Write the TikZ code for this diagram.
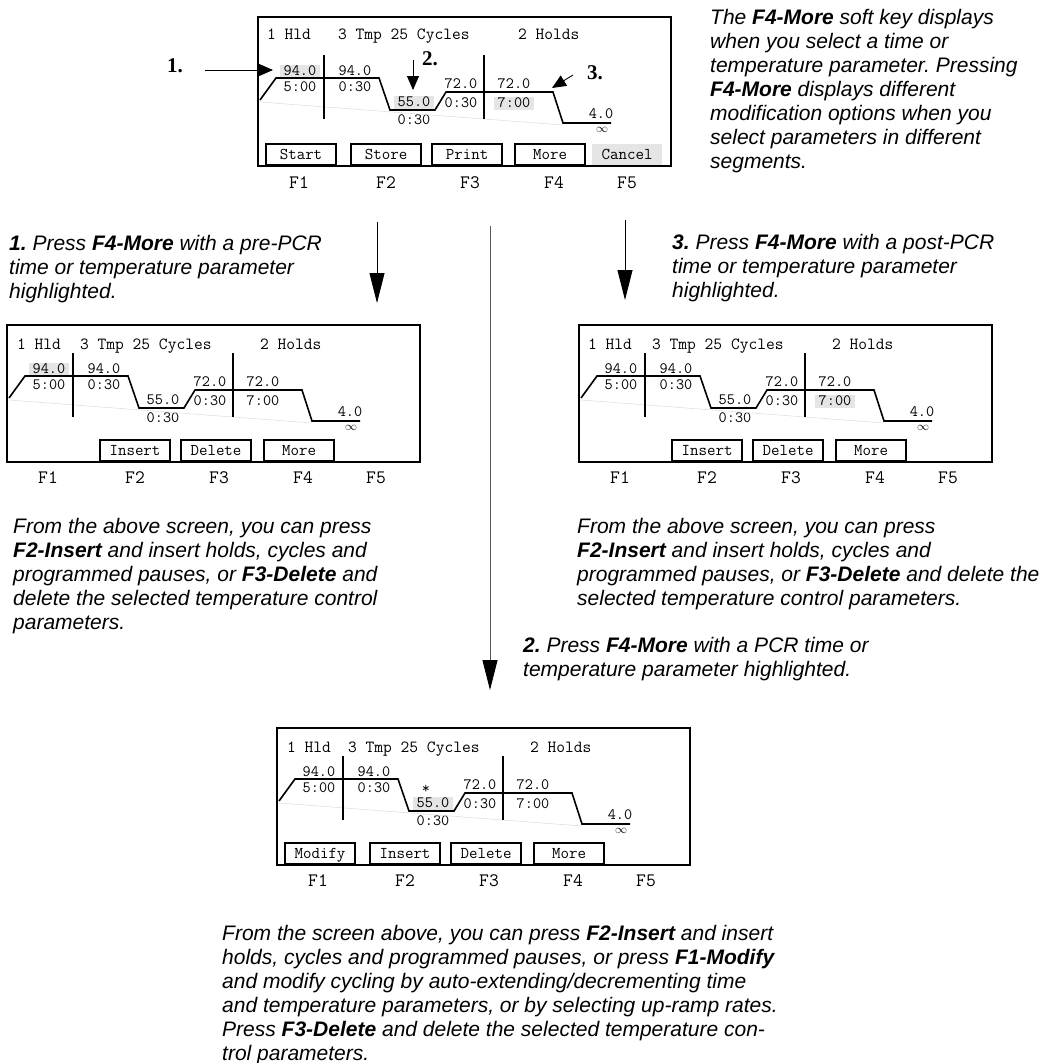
\documentclass[tikz,border=0pt]{standalone}
\usepackage{fontspec}
\setmainfont{Liberation Sans}
\newfontfamily\markfamily{Liberation Serif}
\usetikzlibrary{arrows.meta}
\frenchspacing

\newcommand\notefont{\fontsize{21}{24}\selectfont\itshape}
\newcommand\lcdfont{\fontsize{17}{18}\selectfont\ttfamily}
\newcommand\keyfont{\fontsize{16.5}{18}\selectfont\ttfamily}
\newcommand\valfont{\fontsize{15.8}{17}\selectfont\ttfamily}
\newcommand\fkeyfont{\fontsize{19}{20}\selectfont\ttfamily}

\tikzset{
  screen/.style={draw, line width=1.6pt},
  lcdtext/.style={font=\lcdfont, anchor=west, inner sep=0pt, text height=10pt, text depth=0pt},
  val/.style={font=\valfont, inner xsep=4pt, inner ysep=2pt, text height=9pt, text depth=0pt},
  hilite/.style={fill=black!10},
  h94/.style={}, h55/.style={}, h700/.style={},
  softkey/.style={draw, line width=1.6pt, font=\keyfont, minimum width=70pt, minimum height=21pt,
    inner sep=0pt, text height=9.5pt, text depth=0pt},
  fkey/.style={font=\fkeyfont, inner sep=0pt, text height=11.5pt, text depth=0pt},
  profile/.style={line width=1.6pt, line join=miter},
  divider/.style={line width=1.4pt},
  ghost/.style={black!12, line width=0.6pt},
  note/.style={font=\notefont, align=left, anchor=north west, inner sep=0pt},
  stepmark/.style={font=\markfamily\fontsize{21}{24}\selectfont\bfseries, inner sep=0pt,
    text height=14pt, text depth=0pt},
  flow/.style={line width=0.9pt, -{Triangle[length=30pt, width=15pt, color=black]}},
  pointer/.style={line width=0.9pt, -{Triangle[length=14pt, width=12pt]}}
}

% temperature profile of one screen, origin at the top left corner of the frame
\newcommand\thermchart{%
  \node[val, h94] (t1) at (42,44) {94.0};
  \node[val] (t1t) at (42,60) {5:00};
  \node[val] (t2) at (97,44) {94.0};
  \node[val] (t2t) at (97,60) {0:30};
  \node[val, h55] (t3) at (156,75) {55.0};
  \node[val] (t3t) at (156,93) {0:30};
  \node[val] (t4) at (203,57) {72.0};
  \node[val] (t4t) at (203,76) {0:30};
  \node[val] (t5) at (256,57) {72.0};
  \node[val, h700] (t5t) at (256,76) {7:00};
  \node[val, inner ysep=0pt] (t6) at (343,87) {4.0};
  \node[font=\fontsize{12}{12}\selectfont, inner sep=0pt] (t6t) at (344,103) {$\infty$};
  \draw[ghost] (2,75) -- (305,98);
  \draw[profile] (2,73) -- (18,51) -- (121,51) -- (132,83) -- (177,83)
    -- (188,65) -- (295,65) -- (305,96) -- (353,96);
  \draw[divider] (66,28) -- (66,92);
  \draw[divider] (226,28) -- (226,92);
}

\begin{document}
\begin{tikzpicture}[x=1pt, y=-1pt]
  \useasboundingbox (0,0) rectangle (1050,1063);

  % Run screen
  \begin{scope}[shift={(258,17)}, name prefix=run-,
      h94/.style={hilite}, h55/.style={hilite}, h700/.style={hilite}]
    \draw[screen] (0,0) rectangle (413,149);
    \node[lcdtext] (hold1) at (9,17) {1 Hld};
    \node[lcdtext] (cyc) at (80,17) {3 Tmp 25 Cycles};
    \node[lcdtext] (hold2) at (260,17) {2 Holds};
    \begin{scope}[shift={(0,10)}]
      \thermchart
    \end{scope}
    \node[softkey] (k1) at (43,137.5) {Start};
    \node[softkey] (k2) at (128,137.5) {Store};
    \node[softkey] (k3) at (209,137.5) {Print};
    \node[softkey] (k4) at (292,137.5) {More};
    \node[softkey, draw=none, fill=black!10] (k5) at (369,137.5) {Cancel};
    \foreach \i/\x in {1/41,2/128,3/212,4/296,5/369}
      \node[fkey] (f\i) at (\x,166) {F\i};
  \end{scope}

  % Markers on the run screen
  \node[stepmark] (mark1) at (175,65) {1.};
  \node[stepmark] (mark2) at (430,58) {2.};
  \node[stepmark] (mark3) at (595,72) {3.};
  \coordinate (p1a) at (205,70);
  \coordinate (p1b) at (273,70);
  \coordinate (p2a) at (413,60);
  \coordinate (p2b) at (413,90);
  \coordinate (p3a) at (573,75);
  \coordinate (p3b) at (552,88);
  \draw[pointer] (p1a) -- (p1b);
  \draw[pointer] (p2a) -- (p2b);
  \draw[pointer] (p3a) -- (p3b);

  \node[note] (intro) at (710,9) {The \textbf{F4-More} soft key displays\\
    when you select a time or\\
    temperature parameter. Pressing\\
    \textbf{F4-More} displays different\\
    modification options when you\\
    select parameters in different\\
    segments.};

  % Flow arrows
  \coordinate (preA) at (377,222);
  \coordinate (preB) at (377,303);
  \coordinate (pcrA) at (490,226);
  \coordinate (pcrB) at (490,690);
  \coordinate (postA) at (625,220);
  \coordinate (postB) at (625,300);
  \draw[flow] (preA) -- (preB);
  \draw[flow, draw=black!65] (pcrA) -- (pcrB);
  \draw[flow] (postA) -- (postB);

  \node[note] (step1) at (9,235) {\textbf{1.} Press \textbf{F4-More} with a pre-PCR\\
    time or temperature parameter\\
    highlighted.};
  \node[note] (step3) at (672,234) {\textbf{3.} Press \textbf{F4-More} with a post-PCR\\
    time or temperature parameter\\
    highlighted.};

  % Pre-PCR screen
  \begin{scope}[shift={(7,325)}, name prefix=pre-, h94/.style={hilite}]
    \draw[screen] (0,0) rectangle (413,137);
    \node[lcdtext] (hold1) at (10,19) {1 Hld};
    \node[lcdtext] (cyc) at (73,19) {3 Tmp 25 Cycles};
    \node[lcdtext] (hold2) at (253,19) {2 Holds};
    \thermchart
    \node[softkey] (k2) at (128,125.5) {Insert};
    \node[softkey] (k3) at (209,125.5) {Delete};
    \node[softkey] (k4) at (292,125.5) {More};
    \foreach \i/\x in {1/41,2/128,3/212,4/296,5/369}
      \node[fkey] (f\i) at (\x,153) {F\i};
  \end{scope}

  % Post-PCR screen
  \begin{scope}[shift={(579,325)}, name prefix=post-, h700/.style={hilite}]
    \draw[screen] (0,0) rectangle (413,137);
    \node[lcdtext] (hold1) at (9,19) {1 Hld};
    \node[lcdtext] (cyc) at (73,19) {3 Tmp 25 Cycles};
    \node[lcdtext] (hold2) at (253,19) {2 Holds};
    \thermchart
    \node[softkey] (k2) at (128,125.5) {Insert};
    \node[softkey] (k3) at (209,125.5) {Delete};
    \node[softkey] (k4) at (292,125.5) {More};
    \foreach \i/\x in {1/41,2/128,3/212,4/296,5/369}
      \node[fkey] (f\i) at (\x,153) {F\i};
  \end{scope}

  \node[note] (preinfo) at (13,518) {From the above screen, you can press\\
    \textbf{F2-Insert} and insert holds, cycles and\\
    programmed pauses, or \textbf{F3-Delete} and\\
    delete the selected temperature control\\
    parameters.};
  \node[note] (postinfo) at (577,518) {From the above screen, you can press\\
    \textbf{F2-Insert} and insert holds, cycles and\\
    programmed pauses, or \textbf{F3-Delete} and delete the\\
    selected temperature control parameters.};

  \node[note] (step2) at (523,637) {\textbf{2.} Press \textbf{F4-More} with a PCR time or\\
    temperature parameter highlighted.};

  % PCR screen
  \begin{scope}[shift={(277,728)}, name prefix=pcr-, h55/.style={hilite}]
    \draw[screen] (0,0) rectangle (413,137);
    \node[lcdtext] (hold1) at (10,19) {1 Hld};
    \node[lcdtext] (cyc) at (71,19) {3 Tmp 25 Cycles};
    \node[lcdtext] (hold2) at (253,19) {2 Holds};
    \thermchart
    \node[font=\valfont, inner sep=0pt] (star) at (149,61) {*};
    \node[softkey] (k1) at (43,125.5) {Modify};
    \node[softkey] (k2) at (128,125.5) {Insert};
    \node[softkey] (k3) at (209,125.5) {Delete};
    \node[softkey] (k4) at (292,125.5) {More};
    \foreach \i/\x in {1/41,2/128,3/212,4/296,5/369}
      \node[fkey] (f\i) at (\x,153) {F\i};
  \end{scope}

  \node[note] (pcrinfo) at (222,925) {From the screen above, you can press \textbf{F2-Insert} and insert\\
    holds, cycles and programmed pauses, or press \textbf{F1-Modify}\\
    and modify cycling by auto-extending/decrementing time\\
    and temperature parameters, or by selecting up-ramp rates.\\
    Press \textbf{F3-Delete} and delete the selected temperature con-\\
    trol parameters.};
\end{tikzpicture}
\end{document}
